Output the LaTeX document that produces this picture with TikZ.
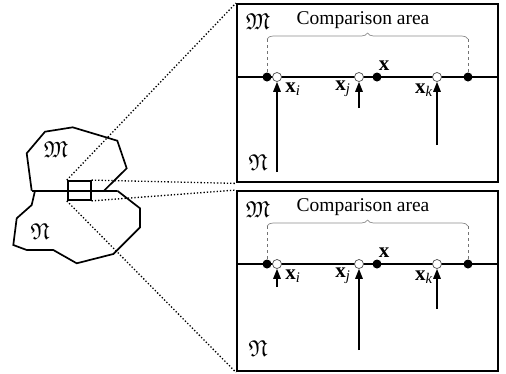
\documentclass[tikz,border=0pt]{standalone}
\usepackage{amssymb}
\usepackage{fontspec}
\setmainfont{Liberation Serif}
\usetikzlibrary{decorations.pathreplacing,arrows.meta}
\begin{document}
\begin{tikzpicture}[x=1pt,y=-1pt,
  panel/.style={draw,line width=2.4pt,minimum width=261pt,anchor=north west,inner sep=0pt},
  zoomline/.style={dotted,line width=1.3pt},
  edge/.style={line width=1.7pt},
  bdot/.style={circle,fill=black,inner sep=0pt,minimum size=9pt},
  odot/.style={circle,draw=black!70,fill=white,line width=0.7pt,inner sep=0pt,minimum size=9pt},
  arr/.style={line width=1.6pt,-{Triangle[length=10pt,width=7.5pt]}},
  lbl/.style={inner sep=0pt,font=\fontsize{19.5}{22}\selectfont},
  xlbl/.style={inner sep=0pt,font=\fontsize{21}{23}\selectfont},
  frak/.style={inner sep=0pt,font=\fontsize{23}{25}\selectfont},
  brc/.style={draw=black!45,line width=0.7pt,decorate,decoration={brace,amplitude=6pt}},
  guide/.style={draw=black!55,dashed,line width=0.6pt}]
\useasboundingbox (0,0) rectangle (506,373);
% left sketch
\draw[edge] (31.7,190.7) -- (26.7,153.3) -- (45,131.7) -- (72.7,127.3) -- (117.3,140.7) -- (126.7,168.3) -- (104,190.7);
\draw[edge] (35,190.7) -- (31.7,205) -- (16.7,218.3) -- (13.3,245) -- (26.7,250) -- (53.3,250) -- (76.7,263.3) -- (113.3,254) -- (140,227.3) -- (140,208.3) -- (117.3,190.7);
\draw[edge] (31.7,190.7) -- (117.3,190.7);
\node[frak] (lm) at (56,150) {$\mathfrak{M}$};
\node[frak] (ln) at (40,232) {$\mathfrak{N}$};
\node[draw,line width=1.8pt,minimum width=23pt,minimum height=19pt,inner sep=0pt] (R) at (79.2,190.5) {};
% panels
\node[panel,minimum height=178pt] (P1) at (236,3) {};
\node[panel,minimum height=180pt] (P2) at (236,190) {};
\draw[zoomline] (R.north west) -- (P1.north west);
\draw[zoomline] (R.north east) -- (P1.south west);
\draw[zoomline] (R.south east) -- (P2.north west);
\draw[zoomline] (R.south west) -- (P2.south west);
% top panel
\coordinate (t1) at (236,77); \coordinate (t2) at (497,77);
\draw[edge] (t1) -- (t2);
\node[frak] (tm) at (258,22) {$\mathfrak{M}$};
\node[frak] (tn) at (258,163) {$\mathfrak{N}$};
\node[lbl] (tc) at (363,20) {Comparison area};
\node[bdot] (ta) at (267,77) {};
\node[odot] (ti) at (277,77) {};
\node[odot] (tj) at (359,77) {};
\node[bdot] (tx) at (377,77) {};
\node[odot] (tk) at (437,77) {};
\node[bdot] (tb) at (468,77) {};
\coordinate (tba) at (267,39); \coordinate (tbb) at (468,39);
\draw[brc] (tba) -- (tbb);
\draw[guide] (tba) -- (ta);
\draw[guide] (tbb) -- (tb);
\coordinate (ti0) at (277,172); \coordinate (tj0) at (359,108); \coordinate (tk0) at (437,145);
\draw[arr] (ti0) -- (ti.south);
\draw[arr] (tj0) -- (tj.south);
\draw[arr] (tk0) -- (tk.south);
\node[xlbl] (txi) at (293,89) {\textbf{x}\textsubscript{\itshape i}};
\node[xlbl] (txj) at (343,89) {\textbf{x}\textsubscript{\itshape j}};
\node[xlbl] (txx) at (384,66) {\textbf{x}};
\node[xlbl] (txk) at (424,90) {\textbf{x}\textsubscript{\itshape k}};
% bottom panel
\coordinate (b1) at (236,264); \coordinate (b2) at (497,264);
\draw[edge] (b1) -- (b2);
\node[frak] (bm) at (258,210) {$\mathfrak{M}$};
\node[frak] (bn) at (258,349) {$\mathfrak{N}$};
\node[lbl] (bc) at (363,207) {Comparison area};
\node[bdot] (ba) at (267,264) {};
\node[odot] (bi) at (277,264) {};
\node[odot] (bj) at (359,264) {};
\node[bdot] (bx) at (377,264) {};
\node[odot] (bk) at (437,264) {};
\node[bdot] (bb) at (468,264) {};
\coordinate (bba) at (267,226); \coordinate (bbb) at (468,226);
\draw[brc] (bba) -- (bbb);
\draw[guide] (bba) -- (ba);
\draw[guide] (bbb) -- (bb);
\coordinate (bi0) at (277,287); \coordinate (bj0) at (359,350); \coordinate (bk0) at (437,309);
\draw[arr] (bi0) -- (bi.south);
\draw[arr] (bj0) -- (bj.south);
\draw[arr] (bk0) -- (bk.south);
\node[xlbl] (bxi) at (293,276) {\textbf{x}\textsubscript{\itshape i}};
\node[xlbl] (bxj) at (343,276) {\textbf{x}\textsubscript{\itshape j}};
\node[xlbl] (bxx) at (384,253) {\textbf{x}};
\node[xlbl] (bxk) at (424,277) {\textbf{x}\textsubscript{\itshape k}};
\end{tikzpicture}
\end{document}
